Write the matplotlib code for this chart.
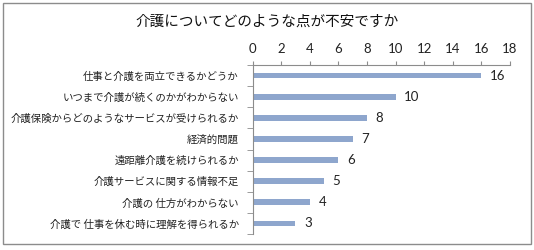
import matplotlib
matplotlib.use('Agg')
import matplotlib.pyplot as plt
from matplotlib.patches import Rectangle

plt.rcParams['font.family'] = ['Noto Sans CJK JP', 'DejaVu Sans']

# Survey answers (top to bottom) and counts
categories = ['仕事と介護を両立できるかどうか',
              'いつまで介護が続くのかがわからない',
              '介護保険からどのようなサービスが受けられるか',
              '経済的問題',
              '遠距離介護を続けられるか',
              '介護サービスに関する情報不足',
              '介護の 仕方がわからない',
              '介護で 仕事を休む時に理解を得られるか']
counts = [16, 10, 8, 7, 6, 5, 4, 3]
x_ticks = [0, 2, 4, 6, 8, 10, 12, 14, 16, 18]

fig = plt.figure(figsize=(5.34, 2.5), dpi=100)
ax = fig.add_axes([0.473, 0.064, 0.482, 0.676])

pos = list(range(len(categories)))
ax.barh(pos, counts, height=0.27, color='#8EA6CD')
ax.set_ylim(len(categories) - 0.5, -0.5)
ax.set_xlim(0, 18)

# value labels at the bar ends
for p, v in zip(pos, counts):
    ax.text(v + 0.6, p, str(v), va='center', ha='left', fontsize=9.5,
            family='Lato', color='#222222')

# x axis on top
ax.xaxis.tick_top()
ax.set_xticks(x_ticks)
ax.set_xticklabels([str(t) for t in x_ticks], family='Lato')
ax.tick_params(axis='x', direction='out', length=3, color='#8C8C8C',
               labelsize=9.5, labelcolor='#222222', pad=4)

# y ticks between categories, labels centred on bars
ax.set_yticks(pos)
ax.set_yticklabels(categories, fontsize=7.5, color='#222222')
ax.set_yticks([p + 0.5 for p in pos[:-1]] + [-0.5, len(pos) - 0.5], minor=True)
ax.tick_params(axis='y', which='major', length=0, pad=10)
ax.tick_params(axis='y', which='minor', direction='out', length=4, color='#8C8C8C')

for s in ['right', 'bottom']:
    ax.spines[s].set_visible(False)
for s in ['left', 'top']:
    ax.spines[s].set_color('#8C8C8C')
    ax.spines[s].set_linewidth(0.8)

fig.text(0.5, 0.915, '介護についてどのような点が不安ですか', ha='center', va='center',
         fontsize=10.5, color='#111111')

# chart frame
fig.patches.append(Rectangle((0.006, 0.026), 0.988, 0.962, transform=fig.transFigure,
                             fill=False, edgecolor='#8C8C8C', linewidth=1))

fig.savefig('out.png', dpi=100)
